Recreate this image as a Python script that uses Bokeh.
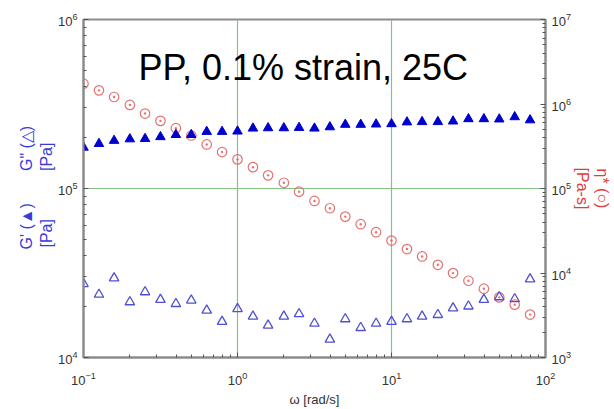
from bokeh.plotting import figure
from bokeh.models import Range1d, LogAxis, LogScale, FixedTicker, Label, Title
from bokeh.embed import file_html
from bokeh.resources import INLINE

# Angular frequency sweep, rad/s
omega = [0.1, 0.126, 0.158, 0.2, 0.251, 0.316, 0.398, 0.501, 0.631, 0.794,
         1.0, 1.26, 1.58, 2.0, 2.51, 3.16, 3.98, 5.01, 6.31, 7.94,
         10.0, 12.6, 15.8, 20.0, 25.1, 31.6, 39.8, 50.1, 63.1, 79.4]

# Storage modulus G' [Pa]
g_storage = [1.75e5, 1.84e5, 1.92e5, 1.96e5, 1.97e5, 2.02e5, 2.08e5, 2.08e5, 2.17e5, 2.17e5,
             2.18e5, 2.27e5, 2.28e5, 2.28e5, 2.29e5, 2.27e5, 2.31e5, 2.39e5, 2.39e5, 2.40e5,
             2.41e5, 2.47e5, 2.48e5, 2.48e5, 2.50e5, 2.58e5, 2.58e5, 2.57e5, 2.65e5, 2.54e5]

# Loss modulus G'' [Pa]
g_loss = [2.73e4, 2.36e4, 2.95e4, 2.13e4, 2.44e4, 2.20e4, 2.08e4, 2.18e4, 1.90e4, 1.63e4,
          1.94e4, 1.75e4, 1.55e4, 1.75e4, 1.81e4, 1.59e4, 1.28e4, 1.69e4, 1.50e4, 1.59e4,
          1.63e4, 1.69e4, 1.75e4, 1.79e4, 1.96e4, 2.01e4, 2.20e4, 2.28e4, 2.22e4, 2.91e4]

# Complex viscosity eta* [Pa-s]
eta_star = [1.74e6, 1.45e6, 1.21e6, 9.75e5, 7.71e5, 6.31e5, 5.17e5, 4.24e5, 3.32e5, 2.70e5,
            2.21e5, 1.79e5, 1.43e5, 1.17e5, 9.17e4, 7.12e4, 5.84e4, 4.65e4, 3.78e4, 3.04e4,
            2.42e4, 1.92e4, 1.57e4, 1.25e4, 9.98e3, 8.10e3, 6.52e3, 5.15e3, 4.22e3, 3.22e3]

W, H = 614, 409
LEFT, RIGHT, TOP, BOTTOM = 83, 67, 19, 51
FONT = "Liberation Sans"
BLUE = "#3a3ad6"
RED = "#e03c3c"
EM = "\u2003"

p = figure(width=W, height=H, x_axis_type="log", y_axis_type="log",
           x_range=Range1d(0.1, 100), y_range=Range1d(1e4, 1e6),
           output_backend="svg", toolbar_location=None,
           min_border_left=LEFT, min_border_right=RIGHT,
           min_border_top=TOP, min_border_bottom=BOTTOM)
p.background_fill_color = "white"
p.border_fill_color = "white"
p.outline_line_color = "#8c8c8c"
p.outline_line_width = 2

p.extra_y_ranges = {"eta": Range1d(1e3, 1e7)}
p.extra_y_scales = {"eta": LogScale()}
right_axis = LogAxis(y_range_name="eta")
p.add_layout(right_axis, "right")


def decade_ticker(lo, hi):
    majors = [10.0 ** e for e in range(lo, hi + 1)]
    minors = [m * 10.0 ** e for e in range(lo, hi) for m in range(2, 10)]
    return FixedTicker(ticks=majors, minor_ticks=minors)


p.xaxis[0].ticker = decade_ticker(-1, 2)
p.yaxis[0].ticker = decade_ticker(4, 6)
right_axis.ticker = decade_ticker(3, 7)

for ax in [p.xaxis[0], p.yaxis[0], right_axis]:
    ax.axis_line_color = "#8c8c8c"
    ax.axis_line_width = 2
    ax.major_tick_in = 5
    ax.major_tick_out = 0
    ax.minor_tick_in = 3
    ax.minor_tick_out = 0
    ax.major_tick_line_color = "#555555"
    ax.minor_tick_line_color = "#555555"
    ax.major_label_text_font = FONT
    ax.major_label_text_font_size = "13px"
    ax.major_label_text_color = "#333333"
    ax.major_label_standoff = 6
    ax.axis_label_text_font = FONT
    ax.axis_label_text_font_style = "normal"

p.xaxis[0].major_label_standoff = 14
p.xaxis[0].axis_label = "ω [rad/s]"
p.xaxis[0].axis_label_text_font_size = "13px"
p.xaxis[0].axis_label_text_color = "#333333"
p.xaxis[0].axis_label_standoff = 4

right_axis.axis_label = "η* (○)\n[Pa-s]"
right_axis.axis_label_text_font_size = "16px"
right_axis.axis_label_text_color = RED
right_axis.axis_label_standoff = 0

# left side: two stacked unit labels for the moduli, read bottom to top
inner = Title(text="[Pa]" + EM * 3 + "[Pa]", align="left", offset=110, standoff=0,
              text_font=FONT, text_font_size="16px", text_font_style="normal",
              text_color=BLUE)
outer = Title(text="G' (▲)" + EM * 2 + 'G" (△)', align="left", offset=108, standoff=2,
              text_font=FONT, text_font_size="16px", text_font_style="normal",
              text_color=BLUE)
p.add_layout(inner, "left")
p.add_layout(outer, "left")

# green reference lines inside the frame
p.xgrid.ticker = FixedTicker(ticks=[1, 10])
p.ygrid.ticker = FixedTicker(ticks=[1e5])
for g in (p.xgrid, p.ygrid):
    g.grid_line_color = "#86c286"
    g.grid_line_width = 1.2

p.scatter(omega, eta_star, y_range_name="eta", marker="circle_dot", size=9.5,
          fill_color=None, line_color="#e05a5a", line_width=1.2, line_alpha=0.85)
p.scatter(omega, g_loss, marker="triangle", size=9.5,
          fill_color=None, line_color="#5050d0", line_width=1.3)
p.scatter(omega, g_storage, marker="triangle", size=9.5,
          fill_color="#0000cc", line_color="#0000cc")

# chart heading inside the frame (screen units are frame relative)
p.add_layout(Label(x=138 - LEFT, y=(H - BOTTOM) - 68, x_units="screen", y_units="screen",
                   text="PP, 0.1% strain, 25C", text_font=FONT, text_font_size="36px",
                   text_color="black", text_baseline="alphabetic"))

open("out.html", "w").write(file_html(p, INLINE))
